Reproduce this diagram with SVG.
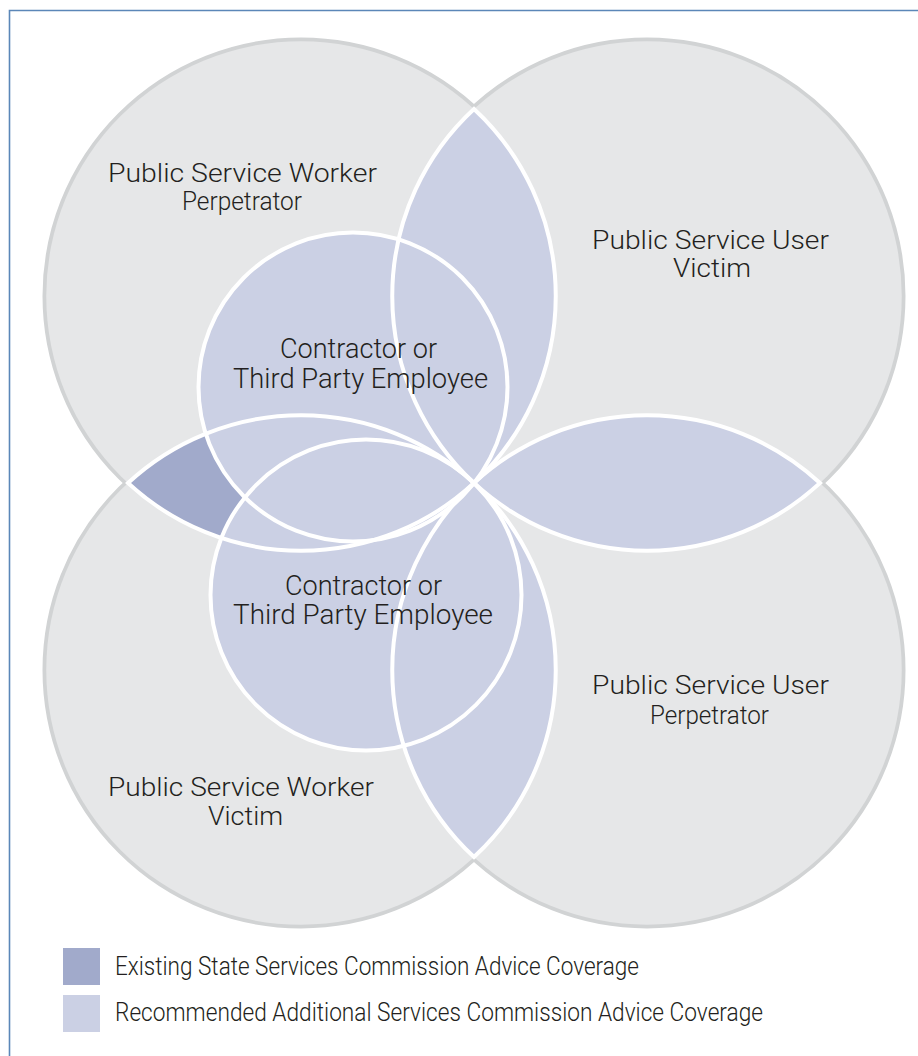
<svg xmlns="http://www.w3.org/2000/svg" width="918" height="1056" viewBox="0 0 918 1056">
<defs>
<style>
.bg{fill:none;stroke:#d1d3d4;stroke-width:10}
.big{fill:#e6e7e8;stroke:none}
.lens{fill:#cbd0e4;stroke:none}
.dark{fill:#a1aacb;stroke:none}
.inner{fill:#cbd0e4;stroke:none}
.wl{fill:none;stroke:#ffffff;stroke-width:4}
.t{font-family:Roboto,"Liberation Sans",sans-serif;font-weight:300;fill:#231f20;text-anchor:middle;font-size:26px}
.tc{font-size:27px}
.lg{font-family:Roboto,"Liberation Sans",sans-serif;font-weight:300;fill:#231f20;font-size:25px}
</style>
<path id="lensTop" d="M474,109 A254.75,254.75 0 0 0 474,483 A254.75,254.75 0 0 0 474,109 Z"/>
<path id="lensRight" d="M474,483 A254.75,254.75 0 0 1 820,483 A254.75,254.75 0 0 1 474,483 Z"/>
<path id="lensBottom" d="M474,483 A254.75,254.75 0 0 0 474,857 A254.75,254.75 0 0 0 474,483 Z"/>
<path id="lensLeft" d="M128,483 A254.75,254.75 0 0 1 474,483 A254.75,254.75 0 0 1 128,483 Z"/>
</defs>
<rect width="918" height="1056" fill="#ffffff"/>
<path d="M9.5,1056 V10.5 H918" fill="none" stroke="#5b87b8" stroke-width="1.6"/>

<g id="outer-outlines">
<circle class="bg" cx="301" cy="296" r="253.5"/>
<circle class="bg" cx="647" cy="296" r="253.5"/>
<circle class="bg" cx="301" cy="670" r="253.5"/>
<circle class="bg" cx="647" cy="670" r="253.5"/>
</g>

<g id="node-psw-perpetrator">
<circle class="big" cx="301" cy="296" r="254.75"/>
</g>
<g id="node-psu-victim">
<circle class="big" cx="647" cy="296" r="254.75"/>
</g>
<g id="node-psw-victim">
<circle class="big" cx="301" cy="670" r="254.75"/>
</g>
<g id="node-psu-perpetrator">
<circle class="big" cx="647" cy="670" r="254.75"/>
</g>

<g id="overlaps">
<use href="#lensTop" class="lens"/>
<use href="#lensRight" class="lens"/>
<use href="#lensBottom" class="lens"/>
<use href="#lensLeft" class="dark"/>
</g>

<g id="node-contractor-upper">
<circle class="inner" cx="353" cy="387" r="154.5"/>
</g>
<g id="node-contractor-lower">
<circle class="inner" cx="366" cy="595" r="155.5"/>
</g>

<g id="connectors">
<use href="#lensTop" class="wl"/>
<use href="#lensRight" class="wl"/>
<use href="#lensBottom" class="wl"/>
<use href="#lensLeft" class="wl"/>
<circle class="wl" cx="353" cy="387" r="154.5"/>
<circle class="wl" cx="366" cy="595" r="155.5"/>
</g>

<g id="labels">
<text class="t" x="242.5" y="182" textLength="269" lengthAdjust="spacingAndGlyphs">Public Service Worker</text>
<text class="t" x="242" y="210" textLength="120" lengthAdjust="spacingAndGlyphs">Perpetrator</text>
<text class="t" x="710.5" y="249" textLength="237" lengthAdjust="spacingAndGlyphs">Public Service User</text>
<text class="t" x="712" y="277" textLength="78" lengthAdjust="spacingAndGlyphs">Victim</text>
<text class="t tc" x="358.5" y="358" textLength="157" lengthAdjust="spacingAndGlyphs">Contractor or</text>
<text class="t tc" x="360.5" y="388" textLength="255" lengthAdjust="spacingAndGlyphs">Third Party Employee</text>
<text class="t tc" x="363.5" y="595" textLength="157" lengthAdjust="spacingAndGlyphs">Contractor or</text>
<text class="t tc" x="363" y="624" textLength="260" lengthAdjust="spacingAndGlyphs">Third Party Employee</text>
<text class="t" x="710.5" y="694" textLength="237" lengthAdjust="spacingAndGlyphs">Public Service User</text>
<text class="t" x="709.5" y="724" textLength="119" lengthAdjust="spacingAndGlyphs">Perpetrator</text>
<text class="t" x="241" y="796" textLength="266" lengthAdjust="spacingAndGlyphs">Public Service Worker</text>
<text class="t" x="245.5" y="825" textLength="75" lengthAdjust="spacingAndGlyphs">Victim</text>
</g>

<g id="legend">
<rect x="63" y="948" width="37" height="37" fill="#a1aacb"/>
<text class="lg" x="115" y="975" textLength="524" lengthAdjust="spacingAndGlyphs">Existing State Services Commission Advice Coverage</text>
<rect x="63" y="995" width="37" height="37" fill="#cbd0e4"/>
<text class="lg" x="115" y="1021" textLength="648" lengthAdjust="spacingAndGlyphs">Recommended Additional Services Commission Advice Coverage</text>
</g>
</svg>
